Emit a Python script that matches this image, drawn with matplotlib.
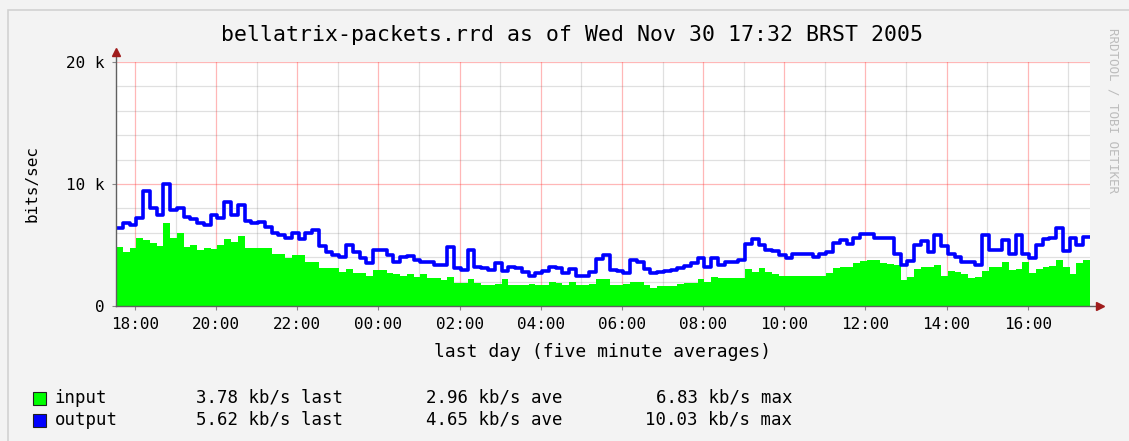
import numpy as np
import pandas as pd
import matplotlib
matplotlib.use("Agg")
from matplotlib import pyplot as plt
import matplotlib.dates as mdates
from matplotlib.patches import Rectangle
from matplotlib.ticker import FuncFormatter, MultipleLocator

# 10 minute samples, starting 29 Nov 2005 17:32 (values in k bits/sec)
start = "2005-11-29 17:32"
step = "10min"

inp = [4.8, 4.4, 4.75, 5.6, 5.4, 5.2, 4.9, 6.83, 5.6, 6.0,
       4.8, 5.0, 4.6, 4.75, 4.7, 5.0, 5.5, 5.25, 5.7, 4.75,
       4.75, 4.75, 4.75, 4.3, 4.3, 3.9, 4.2, 4.2, 3.6, 3.6,
       3.1, 3.1, 3.1, 2.8, 3.0, 2.7, 2.7, 2.5, 2.95, 2.95,
       2.7, 2.6, 2.45, 2.6, 2.4, 2.6, 2.3, 2.3, 2.1, 2.4,
       1.9, 1.9, 2.2, 1.9, 1.75, 1.75, 1.8, 2.2, 1.75, 1.75,
       1.75, 1.8, 1.75, 1.75, 2.0, 1.9, 1.75, 2.0, 1.75, 1.75,
       1.8, 2.2, 2.2, 1.75, 1.75, 1.8, 2.0, 2.0, 1.7, 1.5,
       1.6, 1.6, 1.6, 1.8, 1.9, 1.9, 2.2, 2.0, 2.4, 2.3,
       2.3, 2.3, 2.3, 3.0, 2.8, 3.1, 2.8, 2.6, 2.5, 2.5,
       2.5, 2.5, 2.5, 2.5, 2.5, 2.7, 3.1, 3.2, 3.2, 3.5,
       3.7, 3.75, 3.8, 3.5, 3.45, 3.4, 2.1, 2.4, 3.0, 3.2,
       3.2, 3.4, 2.5, 2.9, 2.8, 2.6, 2.3, 2.4, 2.9, 3.2,
       3.2, 3.6, 2.95, 3.0, 3.6, 2.7, 3.0, 3.2, 3.3, 3.75,
       3.2, 2.6, 3.5, 3.78]

out = [6.4, 6.8, 6.6, 7.2, 9.4, 8.0, 7.5, 10.03, 7.9, 8.0,
       7.3, 7.1, 6.8, 6.6, 7.5, 7.2, 8.5, 7.5, 8.3, 7.0,
       6.8, 6.9, 6.5, 6.0, 5.8, 5.6, 6.0, 5.5, 6.0, 6.2,
       4.9, 4.4, 4.2, 4.0, 5.0, 4.4, 3.9, 3.5, 4.6, 4.6,
       4.2, 3.6, 4.0, 4.1, 3.8, 3.6, 3.6, 3.4, 3.4, 4.8,
       3.1, 2.95, 4.6, 3.2, 3.1, 2.95, 3.5, 2.9, 3.2, 3.1,
       2.8, 2.5, 2.7, 2.9, 3.2, 3.1, 2.7, 3.0, 2.45, 2.5,
       2.8, 3.85, 4.2, 2.95, 2.9, 2.7, 3.8, 3.6, 3.0, 2.7,
       2.8, 2.85, 2.95, 3.1, 3.3, 3.5, 3.9, 3.2, 3.9, 3.4,
       3.6, 3.6, 3.8, 5.1, 5.5, 5.0, 4.6, 4.5, 4.2, 3.9,
       4.3, 4.3, 4.3, 4.0, 4.3, 4.4, 5.2, 5.4, 5.1, 5.6,
       5.9, 5.9, 5.6, 5.6, 5.6, 4.3, 3.4, 3.7, 5.0, 5.3,
       4.4, 5.8, 4.9, 4.3, 4.0, 3.6, 3.6, 3.4, 5.8, 4.6,
       4.6, 5.4, 4.3, 5.8, 4.3, 3.9, 5.0, 5.5, 5.6, 6.4,
       4.5, 5.6, 5.0, 5.62]

legend_names = ["input", "output"]
legend_last = ["3.78 kb/s last", "5.62 kb/s last"]
legend_ave = ["2.96 kb/s ave", "4.65 kb/s ave"]
legend_max = ["6.83 kb/s max", "10.03 kb/s max"]
legend_colors = ["#00ff00", "#0000ff"]

title = "bellatrix-packets.rrd as of Wed Nov 30 17:32 BRST 2005"

W, H = 1129, 441
mono = "DejaVu Sans Mono"
bg = "#f3f3f3"

t = pd.date_range(start, periods=len(inp) + 1, freq=step)
inp_k = np.array(inp + [inp[-1]]) * 1000
out_k = np.array(out + [out[-1]]) * 1000

fig = plt.figure(figsize=(W / 100, H / 100), dpi=100, facecolor=bg)
# frame round the picture (only left and top edges show)
fig.patches.append(Rectangle((8 / W, -0.2), 1.2, 1.2 - 10 / H, transform=fig.transFigure,
                             fill=False, edgecolor="#d2d2d2", lw=1.2))

ax = fig.add_axes([116 / W, 1 - 306 / H, 974 / W, 244 / H])
ax.set_facecolor("white")

ax.fill_between(t, 0, inp_k, step="post", color="#00ff00", lw=0, zorder=2)
ax.plot(t, out_k, drawstyle="steps-post", color="#0000ff", lw=2.6, zorder=4)

ax.set_xlim(t[0], t[-1])
ax.set_ylim(0, 20000)

# grid: gray every hour / 2k, red every 2 hours / 10k
ax.xaxis.set_major_locator(mdates.HourLocator(byhour=range(0, 24, 2)))
ax.xaxis.set_minor_locator(mdates.HourLocator())
ax.xaxis.set_major_formatter(mdates.DateFormatter("%H:%M"))
ax.yaxis.set_major_locator(MultipleLocator(10000))
ax.yaxis.set_minor_locator(MultipleLocator(2000))
ax.yaxis.set_major_formatter(FuncFormatter(lambda v, p: "0" if v == 0 else "%d k" % (v / 1000)))

ax.set_axisbelow(True)
ax.grid(which="minor", color=(0.45, 0.45, 0.45), alpha=0.22, lw=0.9)
ax.grid(which="major", color=(1, 0.2, 0.2), alpha=0.35, lw=0.9)

ax.tick_params(which="both", direction="out", length=3, color="#888888",
               labelsize=11.5, pad=5)
ax.tick_params(which="minor", length=0)
for lab in ax.get_xticklabels() + ax.get_yticklabels():
    lab.set_family(mono)

for s in ax.spines.values():
    s.set_visible(False)

# axes with arrow heads
ax.plot([0, 0], [0, 1.04], transform=ax.transAxes, color="#606060", lw=1, clip_on=False, zorder=5)
ax.plot([0, 1.01], [0, 0], transform=ax.transAxes, color="#606060", lw=1, clip_on=False, zorder=5)
ax.plot([0], [1.04], transform=ax.transAxes, marker="^", ms=6, color="#a01c1c", clip_on=False, zorder=6)
ax.plot([1.01], [0], transform=ax.transAxes, marker=">", ms=6, color="#a01c1c", clip_on=False, zorder=6)

ax.set_ylabel("bits/sec", family=mono, fontsize=11.5, labelpad=19)
ax.set_xlabel("last day (five minute averages)", family=mono, fontsize=13, labelpad=8)

fig.text(572 / W, 1 - 35 / H, title, ha="center", va="center", family=mono, fontsize=15.5)
fig.text(1113 / W, 1 - 28 / H, "RRDTOOL / TOBI OETIKER", rotation=-90, ha="center", va="top",
         family=mono, fontsize=9, color="#bcbcbc")

# legend
rows_y = [398, 420]
for i in range(2):
    y = 1 - rows_y[i] / H
    fig.patches.append(Rectangle((33 / W, y - 6.5 / H), 13 / W, 13 / H, transform=fig.transFigure,
                                 facecolor=legend_colors[i], edgecolor="#202020", lw=0.8))
    fig.text(55 / W, y, legend_names[i], va="center", family=mono, fontsize=12.5)
    fig.text(196 / W, y, legend_last[i], va="center", family=mono, fontsize=12.5)
    fig.text(426 / W, y, legend_ave[i], va="center", family=mono, fontsize=12.5)
    fig.text(792 / W, y, legend_max[i], va="center", ha="right", family=mono, fontsize=12.5)

plt.savefig("out.png", dpi=100, facecolor=bg)
